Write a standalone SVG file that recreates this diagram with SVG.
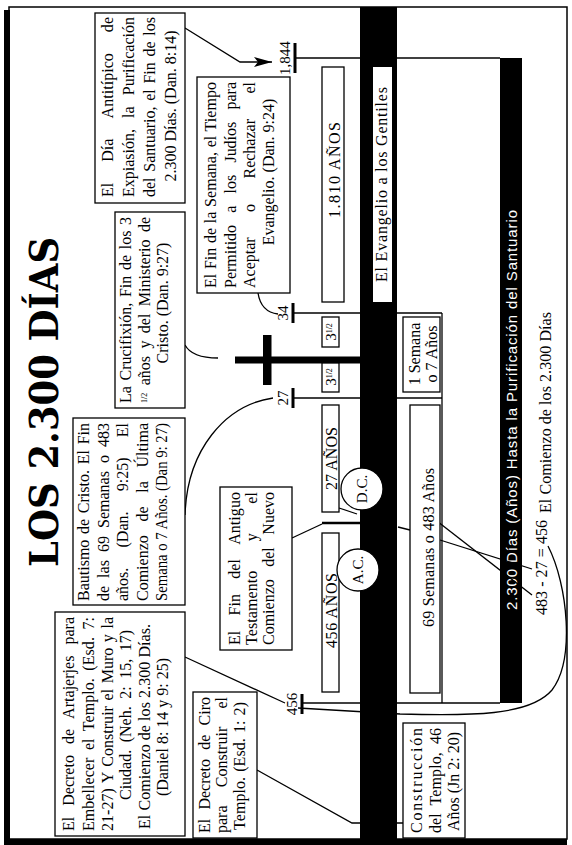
<svg xmlns="http://www.w3.org/2000/svg" width="572" height="845" viewBox="0 0 572 845">
<style>
.box{fill:#fff;stroke:#000;stroke-width:1.3}
.t{font-family:"Liberation Serif",serif;font-size:16px;fill:#000}
.s{font-family:"Liberation Serif",serif;font-size:15px;fill:#000}
.c{fill:none;stroke:#000;stroke-width:1.3}
.tick{stroke:#000;stroke-width:3}
.m{text-anchor:middle}
</style>
<defs>
<marker id="ah" viewBox="0 0 18 10" refX="18" refY="5" markerWidth="18" markerHeight="10" markerUnits="userSpaceOnUse" orient="auto"><path d="M0,0 L18,5 L0,10 L4,5 z"/></marker>
</defs>
<rect width="572" height="845" fill="#fff"/>
<g id="frame">
<rect x="9" y="7" width="558" height="832" fill="#fff" stroke="#000" stroke-width="1.5"/>
<rect x="4" y="10" width="6" height="835" fill="#000"/>
<rect x="4" y="839" width="563" height="6" fill="#000"/>
</g>
<g id="title">
<text transform="translate(58,567) rotate(-90)" font-family="DejaVu Serif" font-weight="bold" font-size="40" textLength="330" lengthAdjust="spacingAndGlyphs">LOS 2.300 DÍAS</text>
</g>
<g id="timeline">
<rect x="360" y="7" width="37" height="832" fill="#000"/>
<rect x="500" y="58" width="22" height="645" fill="#000"/>
<text transform="translate(517,610) rotate(-90)" font-family="Liberation Sans" font-size="15" fill="#fff" textLength="400" lengthAdjust="spacing">2.300 Días (Años) Hasta la Purificación del Santuario</text>
</g>
<g id="connectors">
<path class="c" d="M295 58 H500"/>
<path class="c" d="M293 313 H442"/>
<path class="c" d="M293 398 H442"/>
<path class="c" d="M302 703 H500"/>
<path class="c" d="M442 313 V703"/>
<line class="tick" x1="295" y1="43" x2="295" y2="73"/>
<line class="tick" x1="293" y1="303" x2="293" y2="323"/>
<line class="tick" x1="293" y1="388" x2="293" y2="408"/>
<line class="tick" x1="302" y1="694" x2="302" y2="714"/>
<path class="c" d="M185 28 L240 62 H272" stroke-width="2" marker-end="url(#ah)"/>
<path class="c" d="M258 293 Q261 312 278 314"/>
<path class="c" d="M185 345 Q192 358 218 358"/>
<path class="c" d="M185 515 C187 450 225 405 273 398"/>
<path class="c" d="M292 538 L322 524"/>
<path d="M322 523 H362" stroke="#000" stroke-width="2.5"/>
<path class="c" d="M185 657 L285 703"/>
<path class="c" d="M257 770 L352 823 H403" stroke-width="2"/>
<path class="c" d="M339 508 L357 514"/>
<path class="c" d="M398 527 L410 530"/>
<path class="c" d="M433 518 L532 595"/>
<path class="c" d="M440 540 L532 569"/>
<path class="c" d="M548 546 C568 585 575 660 552 690 C530 716 470 716 400 714 L298 708"/>
</g>
<g id="cross">
<rect x="235" y="356.5" width="127" height="7" fill="#000"/>
<rect x="263" y="335" width="8.5" height="50" fill="#000"/>
</g>
<g id="labels">
<text class="s m" transform="translate(290,58) rotate(-90)">1,844</text>
<text class="s m" transform="translate(288,313) rotate(-90)">34</text>
<text class="s m" transform="translate(288,398) rotate(-90)">27</text>
<text class="s m" transform="translate(297,704) rotate(-90)">456</text>
<text class="t" transform="translate(551,513) rotate(-90)" textLength="201" lengthAdjust="spacing">El Comienzo de los 2.300 Días</text>
<text class="t" transform="translate(547,615) rotate(-90)" textLength="95" lengthAdjust="spacing">483 - 27 = 456</text>
</g>
<g id="n-1810"><rect class="box" x="322" y="67" width="22" height="235"/><text class="t" font-size="17.5" transform="translate(340,218) rotate(-90)" textLength="96" lengthAdjust="spacing">1.810 AÑOS</text></g>
<g id="n-evangelio"><rect x="373" y="67" width="19" height="235" fill="#fff"/><text class="t" font-size="17.5" transform="translate(387,282) rotate(-90)" textLength="195" lengthAdjust="spacing">El Evangelio a los Gentiles</text></g>
<g id="n-3a"><rect class="box" x="322" y="317" width="17" height="30"/><text class="s m" font-size="13" transform="translate(336,332) rotate(-90)">3<tspan font-size="8" dy="-4">1/2</tspan></text></g>
<g id="n-3b"><rect class="box" x="322" y="363" width="17" height="29"/><text class="s m" font-size="13" transform="translate(336,377) rotate(-90)">3<tspan font-size="8" dy="-4">1/2</tspan></text></g>
<g id="n-27anos"><rect class="box" x="322" y="405" width="17" height="107"/><text class="t" transform="translate(337,490) rotate(-90)" textLength="63" lengthAdjust="spacing">27 AÑOS</text></g>
<g id="n-456anos"><rect class="box" x="322" y="533" width="17" height="159"/><text class="t" transform="translate(337,648) rotate(-90)" textLength="75" lengthAdjust="spacing">456 AÑOS</text></g>
<g id="n-semana"><rect class="box" x="403" y="317" width="37" height="75"/><text class="t m" transform="translate(420,354) rotate(-90)">1 Semana</text><text class="t m" transform="translate(437,354) rotate(-90)">o 7 Años</text></g>
<g id="n-69"><rect class="box" x="410" y="405" width="30" height="288"/><text class="t" transform="translate(434,627) rotate(-90)" textLength="159" lengthAdjust="spacing">69 Semanas o 483 Años</text></g>
<g id="n-dc"><circle class="box" cx="362" cy="489" r="21"/><text class="s m" transform="translate(367,489) rotate(-90)">D.C.</text></g>
<g id="n-ac"><circle class="box" cx="358" cy="570" r="21"/><text class="s m" transform="translate(363,570) rotate(-90)">A.C.</text></g>
<g id="n-antitipico">
<rect class="box" x="95" y="13" width="90" height="190"/>
<text class="t" transform="translate(113,197) rotate(-90)" word-spacing="16.9" textLength="180" lengthAdjust="spacing">El Día Antitípico de</text>
<text class="t" transform="translate(134,197) rotate(-90)" word-spacing="7.1" textLength="180" lengthAdjust="spacing">Expiasión, la Purificación</text>
<text class="t" transform="translate(155,197) rotate(-90)" word-spacing="1.7" textLength="180" lengthAdjust="spacing">del Santuario, el Fin de los</text>
<text class="t m" transform="translate(176,106) rotate(-90)">2.300 Días. (Dan. 8:14)</text>
</g>
<g id="n-finsemana">
<rect class="box" x="197" y="77" width="93" height="216"/>
<text class="t" transform="translate(216,288) rotate(-90)" word-spacing="0.6" textLength="206" lengthAdjust="spacing">El Fin de la Semana, el Tiempo</text>
<text class="t" transform="translate(236,288) rotate(-90)" word-spacing="8.2" textLength="206" lengthAdjust="spacing">Permitido a los Judíos para</text>
<text class="t" transform="translate(255,288) rotate(-90)" word-spacing="21.4" textLength="206" lengthAdjust="spacing">Aceptar o Rechazar el</text>
<text class="t m" transform="translate(274,172) rotate(-90)">Evangelio. (Dan. 9:24)</text>
</g>
<g id="n-crucifixion">
<rect class="box" x="115" y="212" width="70" height="196"/>
<text class="t" transform="translate(131,403) rotate(-90)" word-spacing="1.6" textLength="186" lengthAdjust="spacing">La Crucifixión, Fin de los 3</text>
<text class="t" transform="translate(150,403) rotate(-90)" word-spacing="3.4" textLength="186" lengthAdjust="spacing"><tspan font-size="8" dy="-3">1/2</tspan><tspan dy="3"> años y del Ministerio de</tspan></text>
<text class="t m" transform="translate(168,303) rotate(-90)">Cristo. (Dan. 9:27)</text>
</g>
<g id="n-bautismo">
<rect class="box" x="73" y="418" width="112" height="187"/>
<text class="t" transform="translate(89,601) rotate(-90)" word-spacing="1.7" textLength="178" lengthAdjust="spacing">Bautismo de Cristo. El Fin</text>
<text class="t" transform="translate(109,601) rotate(-90)" word-spacing="4" textLength="178" lengthAdjust="spacing">de las 69 Semanas o 483</text>
<text class="t" transform="translate(128,601) rotate(-90)" word-spacing="16.2" textLength="178" lengthAdjust="spacing">años. (Dan. 9:25) El</text>
<text class="t" transform="translate(148,601) rotate(-90)" word-spacing="9.7" textLength="178" lengthAdjust="spacing">Comienzo de la Última</text>
<text class="t" transform="translate(167,601) rotate(-90)" textLength="178" lengthAdjust="spacingAndGlyphs">Semana o 7 Años. (Dan 9: 27)</text>
</g>
<g id="n-antiguo">
<rect class="box" x="220" y="487" width="72" height="163"/>
<text class="t" transform="translate(240,645) rotate(-90)" word-spacing="11.1" textLength="153" lengthAdjust="spacing">El Fin del Antiguo</text>
<text class="t" transform="translate(257,645) rotate(-90)" word-spacing="25.4" textLength="153" lengthAdjust="spacing">Testamento y el</text>
<text class="t" transform="translate(274,645) rotate(-90)" word-spacing="8.5" textLength="153" lengthAdjust="spacing">Comienzo del Nuevo</text>
</g>
<g id="n-artajerjes">
<rect class="box" x="55" y="612" width="130" height="224"/>
<text class="t" transform="translate(74,831) rotate(-90)" word-spacing="6.9" textLength="214" lengthAdjust="spacing">El Decreto de Artajerjes para</text>
<text class="t" transform="translate(94,831) rotate(-90)" word-spacing="3.5" textLength="214" lengthAdjust="spacing">Embellecer el Templo. (Esd. 7:</text>
<text class="t" transform="translate(113,831) rotate(-90)" word-spacing="1.5" textLength="214" lengthAdjust="spacing">21-27) Y Construir el Muro y la</text>
<text class="t" transform="translate(131,800) rotate(-90)" word-spacing="3.5" textLength="170" lengthAdjust="spacing">Ciudad. (Neh. 2: 15, 17)</text>
<text class="t" transform="translate(150,829) rotate(-90)" textLength="205" lengthAdjust="spacing">El Comienzo de los 2.300 Días.</text>
<text class="t m" transform="translate(168,727) rotate(-90)">(Daniel 8: 14 y 9: 25)</text>
</g>
<g id="n-ciro">
<rect class="box" x="193" y="692" width="64" height="146"/>
<text class="t" transform="translate(210,833) rotate(-90)" word-spacing="5.2" textLength="136" lengthAdjust="spacing">El Decreto de Ciro</text>
<text class="t" transform="translate(227,833) rotate(-90)" word-spacing="14.2" textLength="136" lengthAdjust="spacing">para Construir el</text>
<text class="t" transform="translate(245,830) rotate(-90)" word-spacing="1" textLength="128" lengthAdjust="spacing">Templo. (Esd. 1: 2)</text>
</g>
<g id="n-construccion">
<rect class="box" x="403" y="723" width="62" height="115"/>
<text class="t" transform="translate(422,833) rotate(-90)" textLength="105" lengthAdjust="spacing">Construcción</text>
<text class="t" transform="translate(441,833) rotate(-90)" word-spacing="3.9" textLength="105" lengthAdjust="spacing">del Templo, 46</text>
<text class="t" transform="translate(459,831) rotate(-90)">Años (Jn 2: 20)</text>
</g>
</svg>
